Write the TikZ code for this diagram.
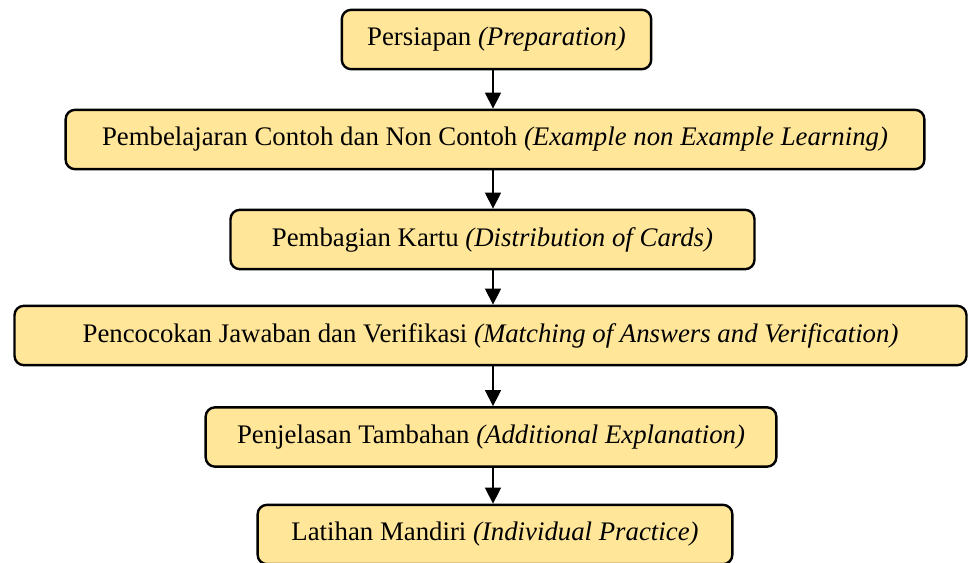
\documentclass[tikz,border=0pt]{standalone}
\usepackage{fontspec}
\setmainfont{Liberation Serif}
\usetikzlibrary{arrows.meta}
\definecolor{boxfill}{HTML}{FFE699}
\begin{document}
\begin{tikzpicture}[x=0.75pt,y=-0.75pt]

    \useasboundingbox (0,0) rectangle (968,563);

    \tikzset{stepbox/.style={draw=black, line width=1.8pt, rounded corners=7pt, fill=boxfill,
        inner sep=0pt, minimum height=44.5pt, font=\fontsize{20.1}{23}\selectfont}}
    \tikzset{flow/.style={-{Triangle[width=12pt,length=12pt]}, line width=0.8pt}}

    \node[stepbox, minimum width=232pt] (prep)  at (496.5,39.5) {Persiapan \textit{(Preparation)}};
    \node[stepbox, minimum width=644pt] (learn) at (495,139.5)  {Pembelajaran Contoh dan Non Contoh \textit{(Example non Example Learning)}};
    \node[stepbox, minimum width=393pt] (cards) at (492.5,239.5) {Pembagian Kartu \textit{(Distribution of Cards)}};
    \node[stepbox, minimum width=714pt] (match) at (490.5,335.5) {Pencocokan Jawaban dan Verifikasi \textit{(Matching of Answers and Verification)}};
    \node[stepbox, minimum width=428pt] (expl)  at (491,437)    {Penjelasan Tambahan \textit{(Additional Explanation)}};
    \node[stepbox, minimum width=356pt] (prac)  at (495,534.5)  {Latihan Mandiri \textit{(Individual Practice)}};

    \coordinate (col) at (493,0);

    \foreach \a/\b in {prep/learn, learn/cards, cards/match, match/expl, expl/prac} {
        \draw[flow] (\a.south -| col) -- (\b.north -| col);
    }

\end{tikzpicture}
\end{document}
